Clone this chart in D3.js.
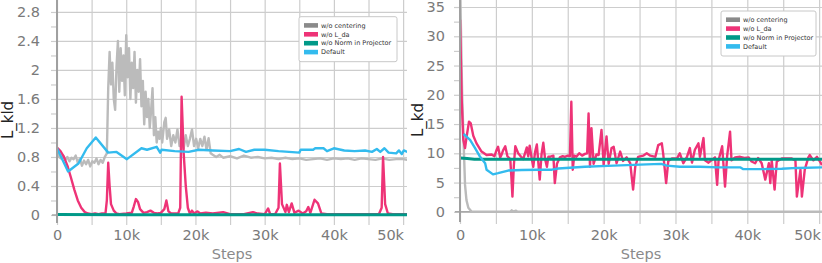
<!DOCTYPE html>
<html>
<head>
<meta charset="utf-8">
<script src="https://cdn.jsdelivr.net/npm/d3@7"></script>
<style>
  body { margin: 0; background: #ffffff; }
  svg { display: block; font-family: "DejaVu Sans", sans-serif; }
</style>
</head>
<body>
<svg id="figure" width="822" height="263"></svg>
<script>
// ---------------- data (steps are in thousands) ----------------
var seriesNames = ['w/o centering', 'w/o L_da', 'w/o Norm in Projector', 'Default'];
var lineColors = ['#bbbbbb', '#ee3377', '#009988', '#33bbee'];
var legendColors = ['#8a8a8a', '#ee3377', '#009988', '#33bbee'];

var stepTicks = [0, 10, 20, 30, 40, 50];
var stepGrid = [0, 5, 10, 15, 20, 25, 30, 35, 40, 45, 50];

var kldTicks = [0, 0.4, 0.8, 1.2, 1.6, 2, 2.4, 2.8];
var kldMinorTicks = [0, 0.2, 0.4, 0.6, 0.8, 1, 1.2, 1.4, 1.6, 1.8, 2, 2.2, 2.4, 2.6, 2.8];
var kdTicks = [0, 5, 10, 15, 20, 25, 30, 35];
var kdMinorTicks = [0, 2.5, 5, 7.5, 10, 12.5, 15, 17.5, 20, 22.5, 25, 27.5, 30, 32.5, 35];

// L_kld : w/o centering
var kldCenterSteps = [0, 0.3, 0.6, 0.9, 1.2, 1.5, 1.8, 2.1, 2.4, 2.7, 3.0, 3.3, 3.6, 3.9, 4.2, 4.5, 4.8, 5.1, 5.4, 5.7, 6.0, 6.3, 6.6, 6.9,
  7.2, 7.4, 7.6, 7.8, 8.0, 8.2, 8.4, 8.6, 8.8, 9.0, 9.2, 9.4, 9.6, 9.8, 10.0, 10.2, 10.4, 10.6, 10.8, 11.0, 11.2, 11.4, 11.6, 11.8,
  12.0, 12.2, 12.4, 12.6, 12.8, 13.0, 13.2, 13.4, 13.6, 13.8, 14.0, 14.2, 14.4, 14.6, 14.8, 15.0, 15.2, 15.5, 15.7, 15.9, 16.2, 16.5,
  16.8, 17.1, 17.4, 17.7, 18.0, 18.3, 18.6, 18.9, 19.2, 19.5, 19.8, 20.1, 20.4, 20.7, 21.0, 21.3, 21.6, 21.9, 22.2, 22.5, 23.0, 23.5,
  24, 25, 26, 27, 28, 29, 30, 31, 32, 33, 34, 35, 36, 37, 38, 39, 40, 41, 42, 43, 44, 45, 46, 47, 48, 49, 50, 50.6];
var kldCenterVals = [0.92, 0.80, 0.78, 0.82, 0.76, 0.80, 0.74, 0.79, 0.77, 0.82, 0.72, 0.78, 0.68, 0.75, 0.70, 0.76, 0.67, 0.74, 0.72, 0.78, 0.70, 0.76, 0.72, 0.80,
  0.85, 1.75, 2.25, 1.80, 2.10, 1.60, 1.45, 2.05, 2.40, 1.70, 2.30, 1.85, 2.20, 1.65, 2.48, 1.90, 2.30, 1.60, 2.10, 1.75, 2.25, 1.55, 2.00, 1.70,
  2.15, 1.50, 1.85, 1.25, 1.70, 1.35, 1.60, 1.20, 1.45, 1.75, 1.10, 1.35, 1.00, 1.15, 1.05, 1.20, 1.00, 1.28, 1.34, 1.05, 1.18, 0.95,
  1.10, 1.00, 1.18, 0.95, 1.05, 0.92, 1.10, 0.95, 1.05, 1.18, 0.95, 1.05, 0.92, 1.05, 0.95, 1.08, 0.90, 1.06, 0.85, 0.83, 0.80, 0.83,
  0.79, 0.81, 0.78, 0.82, 0.79, 0.80, 0.78, 0.79, 0.77, 0.79, 0.77, 0.78, 0.76, 0.77, 0.78, 0.76, 0.78, 0.77, 0.78, 0.76, 0.78, 0.77, 0.76, 0.78, 0.76, 0.77, 0.77, 0.76];

// L_kld : w/o L_da
var kldNoDaSteps = [0, 0.5, 1.0, 1.5, 2.0, 2.5, 3.0, 3.5, 4.0, 4.5, 5.0, 5.5, 6.0, 6.5, 7.0, 7.2, 7.4, 7.6, 7.8, 8.2, 8.6, 9.0, 10.0,
  10.8, 11.1, 11.4, 11.7, 12.0, 12.5, 13.0, 13.5, 14.0, 14.5, 15.0, 15.5, 15.8, 16.1, 16.5, 17.5, 17.8, 18.0, 18.3, 18.6, 18.9, 19.2,
  19.5, 19.8, 20.3, 20.7, 21.5, 22.5, 24.0, 25.0, 27.0, 28.3, 29.0, 30.0, 30.5, 30.8, 31.5, 32.0, 32.2, 32.5, 33.0, 33.2, 33.5, 33.9,
  34.3, 34.9, 35.5, 36.0, 36.3, 36.6, 37.2, 37.7, 38.2, 39, 42, 46.5, 46.9, 47.1, 47.4, 47.8, 48.5, 50.6];
var kldNoDaVals = [0.93, 0.88, 0.80, 0.68, 0.52, 0.35, 0.20, 0.10, 0.04, 0.02, 0.01, 0.02, 0.01, 0.02, 0.02, 0.20, 0.72, 0.40, 0.15, 0.06, 0.02, 0.01, 0.02,
  0.03, 0.12, 0.22, 0.18, 0.08, 0.03, 0.04, 0.06, 0.03, 0.02, 0.03, 0.08, 0.20, 0.05, 0.02, 0.02, 0.10, 1.63, 0.85, 0.40, 0.10, 0.02,
  0.06, 0.02, 0.05, 0.02, 0.03, 0.02, 0.04, 0.01, 0.01, 0.04, 0.02, 0.01, 0.09, 0.01, 0.01, 0.10, 0.71, 0.15, 0.04, 0.14, 0.04, 0.16,
  0.03, 0.06, 0.02, 0.05, 0.11, 0.03, 0.21, 0.16, 0.02, 0.01, 0.01, 0.01, 0.10, 0.80, 0.15, 0.02, 0.01, 0.01];

// L_kld : w/o Norm in Projector
var kldNoNormSteps = [0, 10, 20, 30, 40, 50.6];
var kldNoNormVals = [0.005, 0.004, 0.004, 0.004, 0.004, 0.004];

// L_kld : Default
var kldDefaultSteps = [0, 1.6, 3.1, 4.3, 5.6, 7.4, 8.6, 10.1, 12.2, 13.0, 14.4, 14.9, 15.1, 17.0, 19.0, 20.5, 22.5, 25.0, 26.3, 27.3,
  28.5, 30.0, 32.0, 35.0, 35.2, 37.0, 37.3, 38.5, 39.0, 40.0, 41.5, 43.0, 44.5, 45.5, 46.2, 46.7, 47.3, 47.9, 49.0, 49.4, 49.8, 50.1, 50.6];
var kldDefaultVals = [0.92, 0.60, 0.71, 0.92, 1.07, 0.86, 0.87, 0.77, 0.92, 0.90, 0.94, 0.86, 0.90, 0.88, 0.87, 0.90, 0.89, 0.88, 0.91, 0.87,
  0.90, 0.90, 0.88, 0.86, 0.90, 0.90, 0.92, 0.92, 0.88, 0.92, 0.89, 0.88, 0.89, 0.87, 0.91, 0.87, 0.92, 0.86, 0.85, 0.89, 0.84, 0.89, 0.87];

// L_kd : w/o centering
var kdCenterSteps = [0, 0.3, 0.5, 0.7, 0.9, 1.16, 1.6, 7.0, 7.2, 7.4, 7.8, 8.0, 50.4];
var kdCenterVals = [40, 20, 12, 4.6, 2.0, 0.7, 0.05, 0.03, 0.25, 0.03, 0.2, 0.03, 0.02];

// L_kd : w/o L_da
var kdNoDaSteps = [0, 0.24, 0.46, 0.7, 0.93, 1.25, 1.5, 1.85, 2.3, 3.0, 3.7, 4.4, 4.8, 5.1, 5.3, 5.6, 5.8, 6.0, 6.3, 6.6, 7.0, 7.15,
  7.3, 7.5, 7.7, 8.1, 8.5, 8.8, 9.1, 9.3, 9.5, 9.7, 10.0, 10.2, 10.45, 10.7, 10.9, 11.1, 11.35, 11.6, 11.85, 12.1, 12.3, 12.5, 13.0,
  13.2, 13.5, 13.9, 14.3, 14.6, 15.0, 15.3, 15.5, 15.7, 15.9, 16.2, 16.6, 17.0, 17.4, 17.7, 17.9, 18.1, 18.3, 18.6, 19.0, 19.3, 19.7,
  20.0, 20.4, 20.7, 21.1, 21.4, 21.8, 22.3, 22.7, 23.2, 23.7, 24.1, 24.4, 24.8, 25.5, 26.0, 26.5, 27.2, 27.6, 28.1, 28.3, 28.7, 29.0,
  29.5, 30.2, 30.6, 31.1, 31.6, 32.0, 32.3, 32.7, 33.2, 33.4, 33.9, 34.1, 34.6, 35.0, 35.5, 35.8, 36.0, 36.5, 36.9, 37.2, 37.6, 37.8,
  38.3, 39.0, 39.6, 40.2, 40.6, 41.1, 41.5, 42.0, 42.5, 43.0, 43.2, 43.4, 43.8, 44.1, 44.8, 45.6, 46.2, 46.7, 46.9, 47.4, 47.6, 48.0,
  48.5, 48.7, 49.2, 49.7, 50.1, 50.4];
var kdNoDaVals = [32.8, 19.0, 12.3, 10.9, 12.9, 15.4, 15.1, 13.0, 11.7, 10.3, 9.7, 9.8, 9.5, 10.6, 11.1, 9.3, 9.8, 10.5, 11.2, 9.5, 9.0, 6.0,
  2.6, 8.0, 11.2, 10.0, 9.4, 9.0, 10.2, 11.0, 9.5, 11.3, 9.0, 7.7, 10.2, 11.5, 8.5, 5.5, 9.8, 11.8, 9.0, 7.7, 9.4, 9.4, 9.6,
  4.9, 8.2, 9.3, 9.5, 9.4, 9.6, 9.5, 18.8, 7.2, 9.6, 9.4, 10.0, 9.6, 9.9, 10.0, 16.8, 7.7, 14.3, 8.2, 9.8, 9.7, 14.0,
  8.0, 12.9, 8.2, 10.9, 11.1, 8.3, 10.3, 8.7, 9.3, 8.3, 3.8, 7.7, 9.4, 9.6, 10.0, 9.6, 9.4, 11.4, 11.7, 9.8, 4.9, 8.7,
  9.1, 9.1, 10.0, 8.3, 9.4, 10.9, 8.4, 10.6, 11.7, 9.4, 12.6, 8.8, 8.4, 8.8, 9.3, 4.6, 8.8, 11.2, 4.3, 9.6, 13.7, 8.8,
  9.3, 9.4, 9.2, 9.3, 8.6, 8.3, 9.2, 8.3, 5.5, 8.3, 4.9, 8.8, 3.8, 8.6, 9.1, 9.1, 9.1, 8.8, 2.6, 7.2, 2.6, 7.2,
  9.3, 9.7, 8.8, 9.4, 8.6, 8.0];

// L_kd : w/o Norm in Projector
var kdNoNormSteps = [0, 1, 2, 10, 20, 30, 40, 50.4];
var kdNoNormVals = [9.2, 9.1, 9.0, 9.0, 9.0, 9.0, 9.0, 9.0];

// L_kd : Default
var kdDefaultSteps = [0.5, 1.4, 2.1, 2.8, 3.5, 3.7, 4.6, 5.3, 6.7, 8.6, 10.9, 12.8, 13.7, 17.4, 21.4, 26.0, 28.0, 28.8, 30.6, 33.4,
  36.0, 39.0, 39.4, 42.0, 44.8, 47.0, 50.4];
var kdDefaultVals = [13.3, 12.3, 10.9, 9.4, 8.3, 7.2, 6.4, 6.6, 7.05, 7.15, 7.2, 7.2, 7.4, 7.7, 7.9, 8.1, 8.2, 7.9, 7.7, 7.7,
  7.6, 7.6, 7.3, 7.3, 7.35, 7.5, 7.6];

// ---------------- helpers ----------------
d3.selection.prototype.patternify = function (params) {
  var container = this;
  var selector = params.selector;
  var elementTag = params.tag;
  var data = params.data || [selector];

  var selection = container.selectAll('.' + selector).data(data);
  selection.exit().remove();
  selection = selection.enter().append(elementTag).merge(selection);
  selection.attr('class', selector);
  return selection;
};

function zipSeries(steps, vals) {
  return steps.map(function (s, i) { return [s, vals[i]]; });
}

function renderLossChart(params) {
  var attrs = {
    id: 'ID' + Math.floor(Math.random() * 1000000),
    container: '#figure',
    left: 0,
    top: 0,
    width: 350,
    height: 221,
    xDomain: [0, 50],
    yDomain: [0, 1],
    yTicks: [],
    yMinorTicks: [],
    yTitle: '',
    yTitleX: 8,
    yTitleY: 120,
    labelGap: 17,
    lastLabelInset: 3,
    legendX: 0,
    legendY: 0,
    legendWidth: 98,
    legendHeight: 45,
    series: []
  };
  Object.keys(params).forEach(function (key) { attrs[key] = params[key]; });

  // Calculated properties
  var calc = {};
  calc.right = attrs.left + attrs.width;
  calc.bottom = attrs.top + attrs.height;
  calc.center = attrs.left + attrs.width / 2;

  var x = d3.scaleLinear().domain(attrs.xDomain).range([attrs.left, calc.right]);
  var y = d3.scaleLinear().domain(attrs.yDomain).range([calc.bottom, attrs.top]);

  var svg = d3.select(attrs.container);
  var chart = svg.patternify({ tag: 'g', selector: 'panel-' + attrs.id });

  // clip for the lines
  chart.patternify({ tag: 'clipPath', selector: 'clip' })
    .attr('id', 'clip-' + attrs.id)
    .patternify({ tag: 'rect', selector: 'clip-rect' })
    .attr('x', attrs.left)
    .attr('y', attrs.top)
    .attr('width', attrs.width)
    .attr('height', attrs.height);

  // ##### grid #####
  chart.patternify({ tag: 'g', selector: 'grid-y' })
    .attr('transform', 'translate(' + attrs.left + ',0)')
    .call(d3.axisLeft(y).tickValues(attrs.yTicks).tickSize(-attrs.width).tickFormat(''))
    .call(function (g) { g.select('.domain').remove(); })
    .selectAll('line').attr('stroke', '#cdcdcd').attr('stroke-width', 1.2);

  chart.patternify({ tag: 'g', selector: 'grid-x' })
    .attr('transform', 'translate(0,' + calc.bottom + ')')
    .call(d3.axisBottom(x).tickValues(stepGrid).tickSize(-attrs.height).tickFormat(''))
    .call(function (g) { g.select('.domain').remove(); })
    .selectAll('line').attr('stroke', '#cdcdcd').attr('stroke-width', 1.2);

  // small ticks outside the plot
  chart.patternify({ tag: 'g', selector: 'ticks-y' })
    .attr('transform', 'translate(' + attrs.left + ',0)')
    .call(d3.axisLeft(y).tickValues(attrs.yMinorTicks).tickSize(6).tickFormat(''))
    .call(function (g) { g.select('.domain').remove(); })
    .selectAll('line').attr('stroke', '#cdcdcd').attr('stroke-width', 1.2);

  chart.patternify({ tag: 'g', selector: 'ticks-x' })
    .attr('transform', 'translate(0,' + calc.bottom + ')')
    .call(d3.axisBottom(x).tickValues(stepGrid).tickSize(4).tickFormat(''))
    .call(function (g) { g.select('.domain').remove(); })
    .selectAll('line').attr('stroke', '#cdcdcd').attr('stroke-width', 1.2);

  // ##### tick labels #####
  var yLabels = chart.patternify({ tag: 'g', selector: 'labels-y' })
    .attr('transform', 'translate(' + attrs.left + ',0)')
    .call(d3.axisLeft(y).tickValues(attrs.yTicks).tickSize(0).tickPadding(attrs.labelGap).tickFormat(d3.format('~g')));
  yLabels.select('.domain').remove();
  yLabels.attr('font-family', '"DejaVu Sans", sans-serif').attr('font-size', 14.5);
  yLabels.selectAll('text').attr('fill', '#7a7a7a');

  var xLabels = chart.patternify({ tag: 'g', selector: 'labels-x' })
    .attr('transform', 'translate(0,' + calc.bottom + ')')
    .call(d3.axisBottom(x).tickValues(stepTicks).tickSize(0).tickPadding(240 - 10.3 - calc.bottom)
      .tickFormat(function (d) { return d === 0 ? '0' : d + 'k'; }));
  xLabels.select('.domain').remove();
  xLabels.attr('font-family', '"DejaVu Sans", sans-serif').attr('font-size', 14.5);
  xLabels.selectAll('text').attr('fill', '#7a7a7a');

  // the last label is pulled inside the plot edge, like the original
  var lastTick = stepTicks[stepTicks.length - 1];
  xLabels.selectAll('.tick text')
    .filter(function (d) { return d === lastTick; })
    .attr('text-anchor', 'end')
    .attr('x', calc.right - attrs.lastLabelInset - x(lastTick));

  // ##### axis lines #####
  chart.patternify({ tag: 'line', selector: 'axis-x-line' })
    .attr('x1', attrs.left - 5).attr('x2', calc.right)
    .attr('y1', y(0)).attr('y2', y(0))
    .attr('stroke', '#a8a8a8').attr('stroke-width', 1.6);

  // ##### series #####
  var line = d3.line()
    .x(function (d) { return x(d[0]); })
    .y(function (d) { return y(d[1]); });

  chart.patternify({ tag: 'g', selector: 'series-' + attrs.id })
    .attr('clip-path', 'url(#clip-' + attrs.id + ')')
    .patternify({ tag: 'path', selector: 'series-line', data: attrs.series })
    .attr('d', function (d) { return line(d.points); })
    .attr('fill', 'none')
    .attr('stroke', function (d) { return d.color; })
    .attr('stroke-width', function (d) { return d.width; })
    .attr('stroke-linejoin', 'round');

  chart.patternify({ tag: 'line', selector: 'axis-y-line' })
    .attr('x1', x(0)).attr('x2', x(0))
    .attr('y1', attrs.top).attr('y2', calc.bottom + 2)
    .attr('stroke', '#a0a0a0').attr('stroke-width', 2);

  // ##### titles #####
  chart.patternify({ tag: 'text', selector: 'y-title' })
    .attr('transform', 'translate(' + attrs.yTitleX + ',' + attrs.yTitleY + ') rotate(-90)')
    .attr('text-anchor', 'middle')
    .attr('dy', '0.35em')
    .attr('font-size', 15)
    .attr('fill', '#222222')
    .text(attrs.yTitle);

  chart.patternify({ tag: 'text', selector: 'x-title' })
    .attr('x', calc.center)
    .attr('y', 258.5)
    .attr('text-anchor', 'middle')
    .attr('font-size', 14.5)
    .attr('fill', '#8a8a8a')
    .text('Steps');

  // ##### legend #####
  var legend = chart.patternify({ tag: 'g', selector: 'legend' })
    .attr('transform', 'translate(' + attrs.legendX + ',' + attrs.legendY + ')');

  legend.patternify({ tag: 'rect', selector: 'legend-box' })
    .attr('width', attrs.legendWidth)
    .attr('height', attrs.legendHeight)
    .attr('rx', 2)
    .attr('fill', '#ffffff')
    .attr('stroke', '#c8c8c8')
    .attr('stroke-width', 1);

  var legendItems = legend.patternify({ tag: 'g', selector: 'legend-item', data: seriesNames })
    .attr('transform', function (d, i) { return 'translate(5,' + (8.7 + i * 8.9) + ')'; });

  legendItems.append('rect')
    .attr('y', -2.3)
    .attr('width', 14)
    .attr('height', 4.6)
    .attr('fill', function (d, i) { return legendColors[i]; });

  legendItems.append('text')
    .attr('x', 17)
    .attr('dy', '0.35em')
    .attr('font-size', 6.5)
    .attr('fill', '#333333')
    .text(function (d) { return d; });
}

function buildSeries(stepLists, valLists) {
  return seriesNames.map(function (name, i) {
    return {
      name: name,
      color: lineColors[i],
      width: i === 2 ? 3 : 2.4,
      points: zipSeries(stepLists[i], valLists[i])
    };
  });
}

renderLossChart({
  id: 'kld',
  left: 57,
  top: 0,
  width: 350,
  height: 221,
  xDomain: [0, 50.56],
  yDomain: [-0.083, 2.965],
  yTicks: kldTicks,
  yMinorTicks: kldMinorTicks,
  yTitle: 'L_kld',
  yTitleX: 8,
  yTitleY: 120,
  labelGap: 17,
  lastLabelInset: 3.5,
  legendX: 299,
  legendY: 16.7,
  legendWidth: 98,
  legendHeight: 45,
  series: buildSeries(
    [kldCenterSteps, kldNoDaSteps, kldNoNormSteps, kldDefaultSteps],
    [kldCenterVals, kldNoDaVals, kldNoNormVals, kldDefaultVals])
});

renderLossChart({
  id: 'kd',
  left: 460,
  top: 0,
  width: 362,
  height: 220,
  xDomain: [0, 50.4],
  yDomain: [-1.4, 36.2],
  yTicks: kdTicks,
  yMinorTicks: kdMinorTicks,
  yTitle: 'L_kd',
  yTitleX: 418,
  yTitleY: 120,
  labelGap: 15,
  lastLabelInset: 1.5,
  legendX: 721,
  legendY: 11,
  legendWidth: 95,
  legendHeight: 45,
  series: buildSeries(
    [kdCenterSteps, kdNoDaSteps, kdNoNormSteps, kdDefaultSteps],
    [kdCenterVals, kdNoDaVals, kdNoNormVals, kdDefaultVals])
});
</script>
</body>
</html>
